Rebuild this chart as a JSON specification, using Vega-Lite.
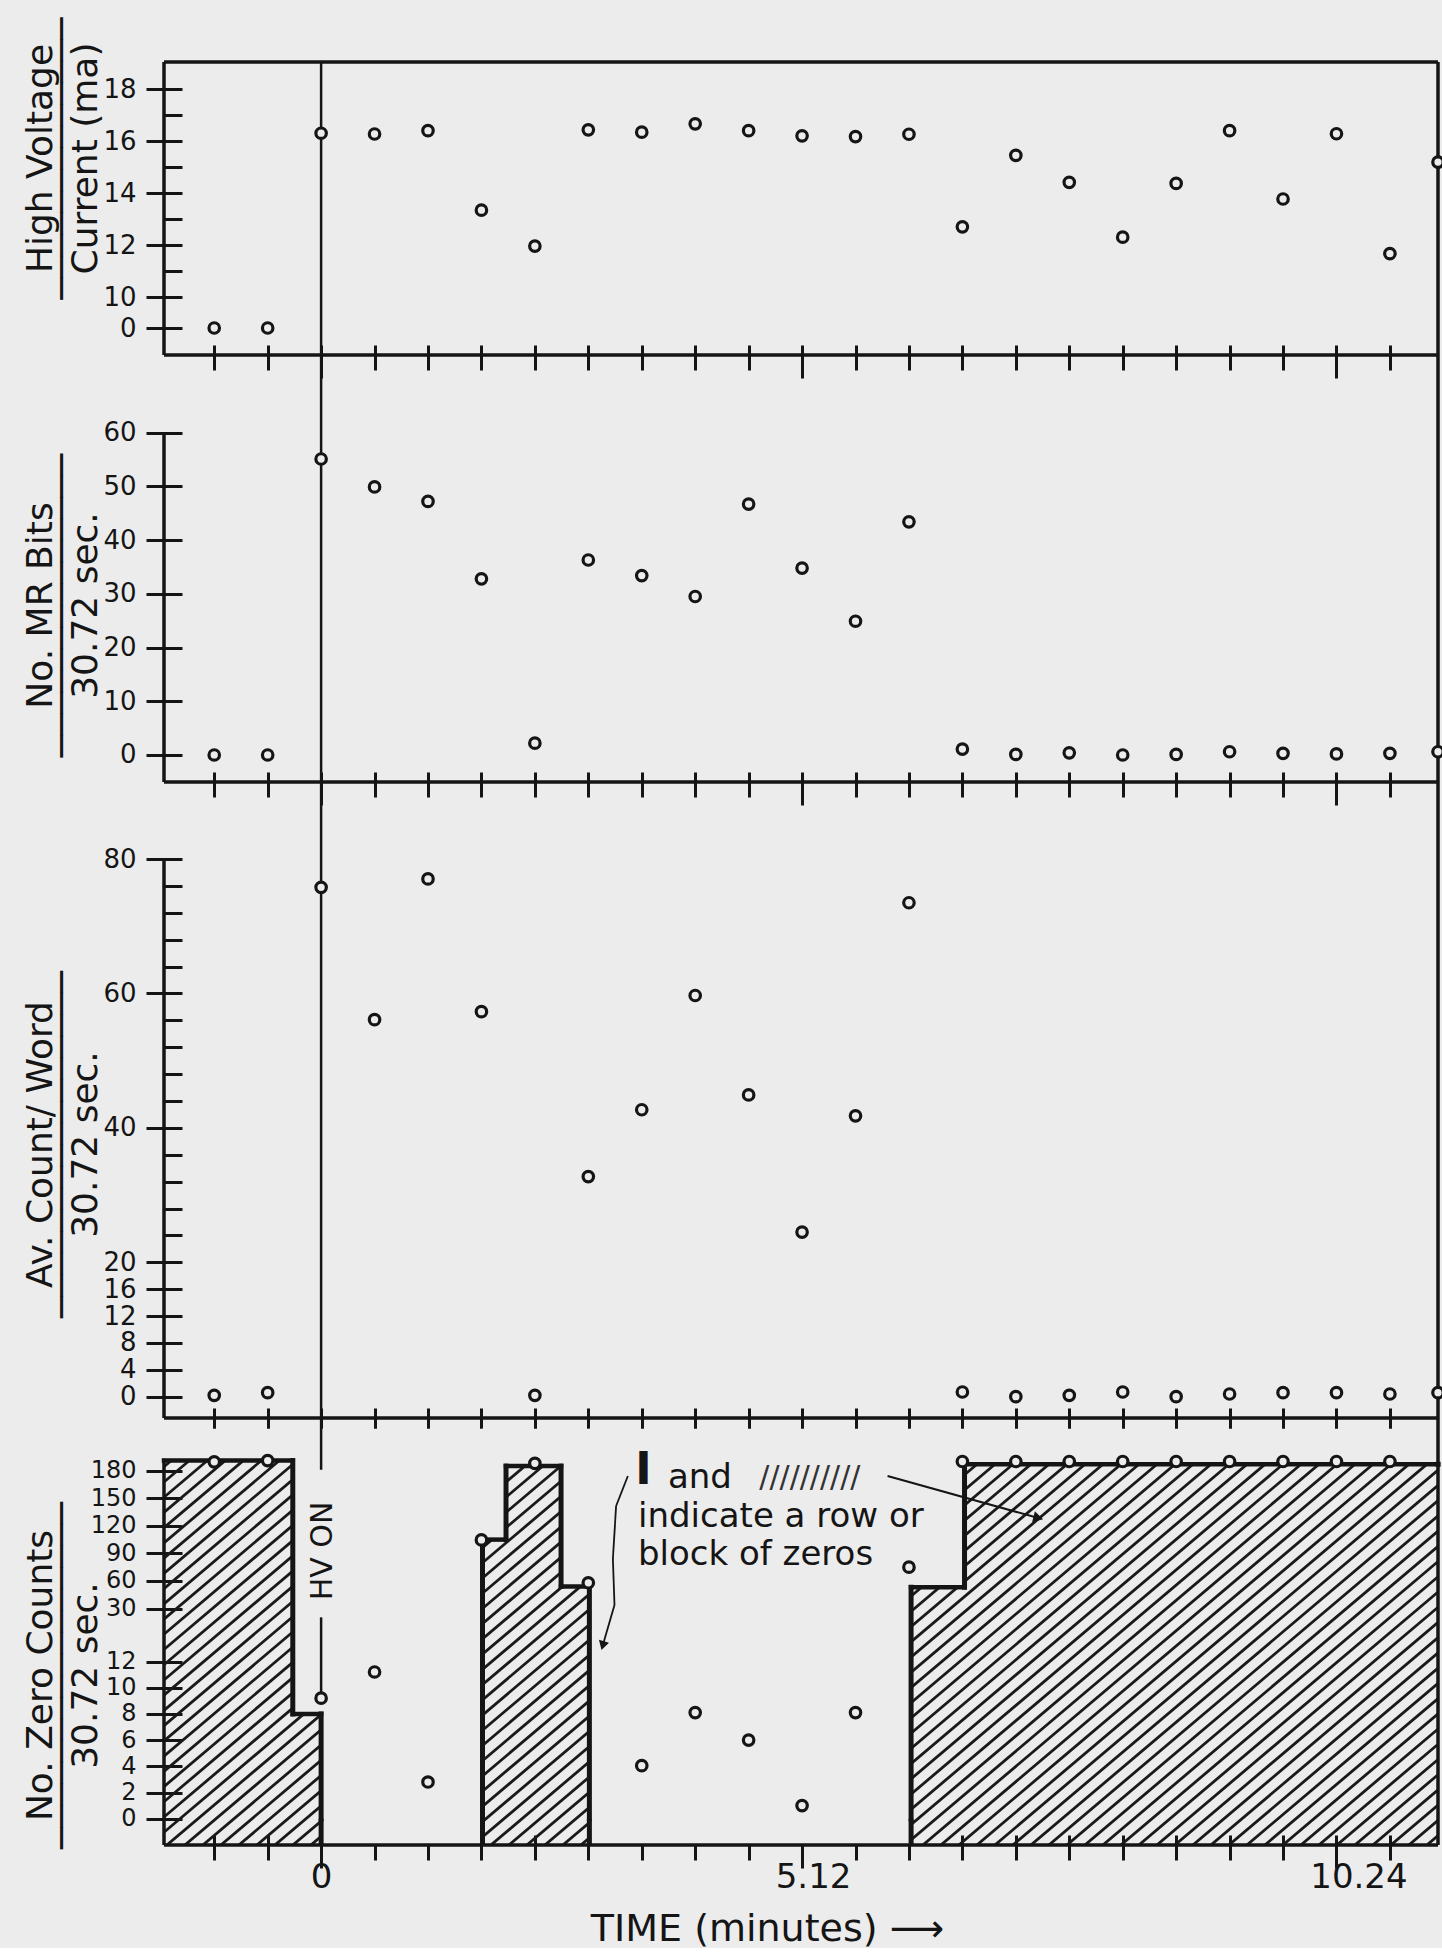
{
  "$schema": "https://vega.github.io/schema/vega-lite/v6.json",
  "background": "#ececec",
  "padding": {"left": 21, "top": 17, "right": 0, "bottom": 0},
  "spacing": 0,
  "bounds": "flush",
  "config": {
    "view": {"stroke": null},
    "font": "DejaVu Sans",
    "axis": {"labelFont": "DejaVu Sans", "titleFont": "DejaVu Sans", "labelColor": "#151515", "titleColor": "#151515", "tickColor": "#151515", "grid": false, "domain": false, "titleFontWeight": "normal", "tickWidth": 3, "zindex": 1, "labelOverlap": false, "labelFlush": false, "tickCount": 200},
    "text": {"font": "DejaVu Sans", "color": "#151515"}
  },
  "datasets": {
    "readings": [
      {"interval": -2, "current": 0, "mr_bits": 0, "avg_count": 0.2, "zero_counts": 189.7},
      {"interval": -1, "current": 0, "mr_bits": 0, "avg_count": 0.6, "zero_counts": 191},
      {"interval": 0, "current": 16.3, "mr_bits": 55.1, "avg_count": 75.8, "zero_counts": 9.2},
      {"interval": 1, "current": 16.27, "mr_bits": 49.9, "avg_count": 56.1, "zero_counts": 11.2},
      {"interval": 2, "current": 16.4, "mr_bits": 47.2, "avg_count": 77.05, "zero_counts": 2.8},
      {"interval": 3, "current": 13.34, "mr_bits": 32.8, "avg_count": 57.3, "zero_counts": 104.7},
      {"interval": 4, "current": 11.96, "mr_bits": 2.2, "avg_count": 0.2, "zero_counts": 188},
      {"interval": 5, "current": 16.43, "mr_bits": 36.3, "avg_count": 32.75, "zero_counts": 58},
      {"interval": 6, "current": 16.34, "mr_bits": 33.4, "avg_count": 42.7, "zero_counts": 4.05},
      {"interval": 7, "current": 16.66, "mr_bits": 29.5, "avg_count": 59.7, "zero_counts": 8.1},
      {"interval": 8, "current": 16.4, "mr_bits": 46.7, "avg_count": 44.9, "zero_counts": 6.0},
      {"interval": 9, "current": 16.2, "mr_bits": 34.8, "avg_count": 24.5, "zero_counts": 1.0},
      {"interval": 10, "current": 16.17, "mr_bits": 24.9, "avg_count": 41.8, "zero_counts": 8.1},
      {"interval": 11, "current": 16.26, "mr_bits": 43.4, "avg_count": 73.5, "zero_counts": 75},
      {"interval": 12, "current": 12.7, "mr_bits": 1.1, "avg_count": 0.7, "zero_counts": 190},
      {"interval": 13, "current": 15.45, "mr_bits": 0.1, "avg_count": 0, "zero_counts": 190},
      {"interval": 14, "current": 14.41, "mr_bits": 0.4, "avg_count": 0.2, "zero_counts": 190},
      {"interval": 15, "current": 12.3, "mr_bits": 0, "avg_count": 0.7, "zero_counts": 190},
      {"interval": 16, "current": 14.37, "mr_bits": 0.1, "avg_count": 0, "zero_counts": 190},
      {"interval": 17, "current": 16.4, "mr_bits": 0.6, "avg_count": 0.4, "zero_counts": 190},
      {"interval": 18, "current": 13.77, "mr_bits": 0.3, "avg_count": 0.6, "zero_counts": 190},
      {"interval": 19, "current": 16.28, "mr_bits": 0.2, "avg_count": 0.6, "zero_counts": 190},
      {"interval": 20, "current": 11.67, "mr_bits": 0.3, "avg_count": 0.4, "zero_counts": 190},
      {"interval": 20.9, "current": 15.19, "mr_bits": 0.6, "avg_count": 0.6, "zero_counts": null}
    ],
    "zero_blocks": [
      {"interval": -2.94, "zeros": 191},
      {"interval": -0.53, "zeros": 8},
      {"interval": 0, "zeros": 0},
      {"interval": 3.02, "zeros": 105},
      {"interval": 3.46, "zeros": 185},
      {"interval": 4.49, "zeros": 54},
      {"interval": 5.02, "zeros": 0},
      {"interval": 11.04, "zeros": 53},
      {"interval": 12.04, "zeros": 187},
      {"interval": 20.9, "zeros": 187}
    ]
  },
  "vconcat": [
    {
      "width": 1274,
      "height": 293,
      "layer": [
        {"data": {"values": [{}]}, "mark": {"type": "rule", "stroke": "#151515", "strokeWidth": 2.5}, "encoding": {"x": {"datum": 0, "type": "quantitative"}}},
        {"data": {"values": [{}]}, "mark": {"type": "rule", "stroke": "#151515", "strokeWidth": 3.5}, "encoding": {"x": {"datum": -2.94, "type": "quantitative"}}},
        {"data": {"values": [{}]}, "mark": {"type": "rule", "stroke": "#151515", "strokeWidth": 3.5}, "encoding": {"x": {"datum": 20.9, "type": "quantitative"}}},
        {"data": {"values": [{}]}, "mark": {"type": "rule", "stroke": "#151515", "strokeWidth": 3.5}, "encoding": {"y": {"datum": 19.04, "type": "quantitative"}}},
        {"data": {"values": [{}]}, "mark": {"type": "rule", "stroke": "#151515", "strokeWidth": 3.5}, "encoding": {"y": {"datum": -8.7, "type": "quantitative"}}},
        {
          "data": {"name": "readings"},
          "mark": {"type": "point", "shape": "circle", "size": 110, "filled": true, "fill": "#ececec", "stroke": "#151515", "strokeWidth": 3.2, "opacity": 1},
          "encoding": {
            "x": {"field": "interval", "type": "quantitative",
              "scale": {"domain": [-2.94, 20.9], "nice": false, "zero": false},
              "axis": {"values": [-2,-1,0,1,2,3,4,5,6,7,8,9,10,11,12,13,14,15,16,17,18,19,20], "tickCount": 200, "offset": -10, "labels": false, "title": null,
                "tickSize": {"condition": {"test": "datum.value == 0 || datum.value == 9 || datum.value == 19", "value": 33}, "value": 25}}},
            "y": {"field": "current", "type": "quantitative",
              "scale": {"domain": [-8.7, 0, 10, 19.04], "range": [293, 266, 235, 0], "nice": false, "zero": false},
              "axis": {"values": [0,10,11,12,13,14,15,16,17,18], "tickCount": 200, "format": "d", "offset": -18,
                "tickSize": {"condition": {"test": "datum.value % 2 == 1", "value": 18}, "value": 36},
                "labelExpr": "datum.value % 2 == 0 ? datum.label : ''",
                "labelFontSize": 26, "labelPadding": 10,
                "title": ["High Voltage", "─────────────", "Current (ma)"],
                "titleFontSize": 36, "titleLineHeight": 22.5, "titleAngle": 270, "titleBaseline": "middle", "titleAlign": "center", "titleX": -142, "titleY": 96}}
          }
        }
      ]
    },
    {
      "width": 1274,
      "height": 427,
      "layer": [
        {"data": {"values": [{}]}, "mark": {"type": "rule", "stroke": "#151515", "strokeWidth": 2.5}, "encoding": {"x": {"datum": 0, "type": "quantitative"}}},
        {"data": {"values": [{}]}, "mark": {"type": "rule", "stroke": "#151515", "strokeWidth": 3.5}, "encoding": {"x": {"datum": -2.94, "type": "quantitative"}, "y": {"datum": -5.03, "type": "quantitative"}, "y2": {"datum": 60}}},
        {"data": {"values": [{}]}, "mark": {"type": "rule", "stroke": "#151515", "strokeWidth": 3.5}, "encoding": {"x": {"datum": 20.9, "type": "quantitative"}}},
        {"data": {"values": [{}]}, "mark": {"type": "rule", "stroke": "#151515", "strokeWidth": 3.5}, "encoding": {"y": {"datum": -5.03, "type": "quantitative"}}},
        {
          "data": {"name": "readings"},
          "mark": {"type": "point", "shape": "circle", "size": 110, "filled": true, "fill": "#ececec", "stroke": "#151515", "strokeWidth": 3.2, "opacity": 1},
          "encoding": {
            "x": {"field": "interval", "type": "quantitative",
              "scale": {"domain": [-2.94, 20.9], "nice": false, "zero": false},
              "axis": {"values": [-2,-1,0,1,2,3,4,5,6,7,8,9,10,11,12,13,14,15,16,17,18,19,20], "tickCount": 200, "offset": -10, "labels": false, "title": null,
                "tickSize": {"condition": {"test": "datum.value == 0 || datum.value == 9 || datum.value == 19", "value": 33}, "value": 25}}},
            "y": {"field": "mr_bits", "type": "quantitative",
              "scale": {"domain": [-5.03, 74.46], "nice": false, "zero": false},
              "axis": {"values": [0,10,20,30,40,50,60], "tickCount": 200, "format": "d", "offset": -18, "tickSize": 36,
                "labelFontSize": 26, "labelPadding": 10,
                "title": ["No. MR Bits", "──────────────", "30.72 sec."],
                "titleFontSize": 36, "titleLineHeight": 22.5, "titleAngle": 270, "titleBaseline": "middle", "titleAlign": "center", "titleX": -142, "titleY": 250}}
          }
        }
      ]
    },
    {
      "width": 1274,
      "height": 636,
      "layer": [
        {"data": {"values": [{}]}, "mark": {"type": "rule", "stroke": "#151515", "strokeWidth": 2.5}, "encoding": {"x": {"datum": 0, "type": "quantitative"}}},
        {"data": {"values": [{}]}, "mark": {"type": "rule", "stroke": "#151515", "strokeWidth": 3.5}, "encoding": {"x": {"datum": -2.94, "type": "quantitative"}, "y": {"datum": -3.17, "type": "quantitative"}, "y2": {"datum": 80}}},
        {"data": {"values": [{}]}, "mark": {"type": "rule", "stroke": "#151515", "strokeWidth": 3.5}, "encoding": {"x": {"datum": 20.9, "type": "quantitative"}}},
        {"data": {"values": [{}]}, "mark": {"type": "rule", "stroke": "#151515", "strokeWidth": 3.5}, "encoding": {"y": {"datum": -3.17, "type": "quantitative"}}},
        {
          "data": {"name": "readings"},
          "mark": {"type": "point", "shape": "circle", "size": 110, "filled": true, "fill": "#ececec", "stroke": "#151515", "strokeWidth": 3.2, "opacity": 1},
          "encoding": {
            "x": {"field": "interval", "type": "quantitative",
              "scale": {"domain": [-2.94, 20.9], "nice": false, "zero": false},
              "axis": {"values": [-2,-1,0,1,2,3,4,5,6,7,8,9,10,11,12,13,14,15,16,17,18,19,20], "tickCount": 200, "offset": -10, "labels": false, "title": null,
                "tickSize": {"condition": {"test": "datum.value == 0 || datum.value == 9 || datum.value == 19", "value": 33}, "value": 25}}},
            "y": {"field": "avg_count", "type": "quantitative",
              "scale": {"domain": [-3.17, 91.47], "nice": false, "zero": false},
              "axis": {"values": [0,4,8,12,16,20,24,28,32,36,40,44,48,52,56,60,64,68,72,76,80], "tickCount": 200, "format": "d", "offset": -18,
                "tickSize": {"condition": {"test": "datum.value <= 20 || datum.value % 20 == 0", "value": 36}, "value": 18},
                "labelExpr": "(datum.value <= 20 || datum.value % 20 == 0) ? datum.label : ''",
                "labelFontSize": 26, "labelPadding": 10,
                "title": ["Av. Count/ Word", "────────────────", "30.72 sec."],
                "titleFontSize": 36, "titleLineHeight": 22.5, "titleAngle": 270, "titleBaseline": "middle", "titleAlign": "center", "titleX": -142, "titleY": 362}}
          }
        }
      ]
    },
    {
      "width": 1274,
      "height": 427,
      "layer": [
        {"data": {"values": [{}]},
         "mark": {"type": "point", "clip": true, "size": 4, "filled": false, "stroke": "#1a1a1a", "strokeWidth": 2.8, "opacity": 1,
           "shape": "M-1126,206l487,-412m-469,412l487,-412m-469,412l487,-412m-469,412l487,-412m-469,412l487,-412m-469,412l487,-412m-469,412l487,-412m-469,412l487,-412m-469,412l487,-412m-469,412l487,-412m-469,412l487,-412m-469,412l487,-412m-469,412l487,-412m-469,412l487,-412m-469,412l487,-412m-469,412l487,-412m-469,412l487,-412m-469,412l487,-412m-469,412l487,-412m-469,412l487,-412m-469,412l487,-412m-469,412l487,-412m-469,412l487,-412m-469,412l487,-412m-469,412l487,-412m-469,412l487,-412m-469,412l487,-412m-469,412l487,-412m-469,412l487,-412m-469,412l487,-412m-469,412l487,-412m-469,412l487,-412m-469,412l487,-412m-469,412l487,-412m-469,412l487,-412m-469,412l487,-412m-469,412l487,-412m-469,412l487,-412m-469,412l487,-412m-469,412l487,-412m-469,412l487,-412m-469,412l487,-412m-469,412l487,-412m-469,412l487,-412m-469,412l487,-412m-469,412l487,-412m-469,412l487,-412m-469,412l487,-412m-469,412l487,-412m-469,412l487,-412m-469,412l487,-412m-469,412l487,-412m-469,412l487,-412m-469,412l487,-412m-469,412l487,-412m-469,412l487,-412m-469,412l487,-412m-469,412l487,-412m-469,412l487,-412m-469,412l487,-412m-469,412l487,-412m-469,412l487,-412m-469,412l487,-412m-469,412l487,-412m-469,412l487,-412m-469,412l487,-412m-469,412l487,-412m-469,412l487,-412m-469,412l487,-412m-469,412l487,-412m-469,412l487,-412m-469,412l487,-412m-469,412l487,-412m-469,412l487,-412m-469,412l487,-412m-469,412l487,-412m-469,412l487,-412m-469,412l487,-412m-469,412l487,-412m-469,412l487,-412m-469,412l487,-412m-469,412l487,-412m-469,412l487,-412m-469,412l487,-412m-469,412l487,-412m-469,412l487,-412m-469,412l487,-412m-469,412l487,-412m-469,412l487,-412m-469,412l487,-412m-469,412l487,-412m-469,412l487,-412m-469,412l487,-412m-469,412l487,-412m-469,412l487,-412m-469,412l487,-412m-469,412l487,-412m-469,412l487,-412m-469,412l487,-412m-469,412l487,-412m-469,412l487,-412m-469,412l487,-412m-469,412"},
         "encoding": {"x": {"datum": 8.98, "type": "quantitative"}, "y": {"datum": 17.94, "type": "quantitative"}}},
        {"data": {"name": "zero_blocks"},
         "transform": [
           {"window": [{"op": "lead", "field": "interval", "as": "next_interval"}, {"op": "lead", "field": "zeros", "as": "next_zeros"}], "sort": [{"field": "interval", "order": "ascending"}]},
           {"filter": "datum.next_interval != null && datum.zeros > 0"}],
         "mark": {"type": "rect", "fill": "#ececec", "stroke": "#ececec", "strokeWidth": 1.5, "clip": true},
         "encoding": {"x": {"field": "interval", "type": "quantitative"}, "x2": {"field": "next_interval"}, "y": {"field": "zeros", "type": "quantitative"}, "y2": {"datum": 225}}},
        {"data": {"name": "zero_blocks"},
         "transform": [
           {"window": [{"op": "lead", "field": "interval", "as": "next_interval"}, {"op": "lead", "field": "zeros", "as": "next_zeros"}], "sort": [{"field": "interval", "order": "ascending"}]},
           {"filter": "datum.next_interval != null && datum.zeros == 0"}],
         "mark": {"type": "rect", "fill": "#ececec", "stroke": "#ececec", "strokeWidth": 1.5, "clip": true},
         "encoding": {"x": {"field": "interval", "type": "quantitative"}, "x2": {"field": "next_interval"}, "y": {"datum": -2, "type": "quantitative"}, "y2": {"datum": 225}}},
        {"data": {"values": [{}]}, "mark": {"type": "rule", "stroke": "#151515", "strokeWidth": 2.5}, "encoding": {"x": {"datum": 0, "type": "quantitative"}, "y": {"datum": 237.4, "type": "quantitative"}, "y2": {"datum": 181}}},
        {"data": {"values": [{}]}, "mark": {"type": "rule", "stroke": "#151515", "strokeWidth": 2.5}, "encoding": {"x": {"datum": 0, "type": "quantitative"}, "y": {"datum": 27, "type": "quantitative"}, "y2": {"datum": 9.2}}},
        {"data": {"values": [{}]}, "mark": {"type": "text", "text": "HV ON", "angle": 270, "fontSize": 30, "align": "center", "baseline": "middle", "color": "#151515"}, "encoding": {"x": {"datum": 0.04, "type": "quantitative"}, "y": {"datum": 92.6, "type": "quantitative"}}},
        {"data": {"name": "zero_blocks"},
         "transform": [
           {"window": [{"op": "lead", "field": "interval", "as": "next_interval"}, {"op": "lead", "field": "zeros", "as": "next_zeros"}], "sort": [{"field": "interval", "order": "ascending"}]},
           {"filter": "datum.next_interval != null && datum.zeros > 0"}],
         "mark": {"type": "rule", "stroke": "#151515", "strokeWidth": 4.5, "strokeCap": "square"},
         "encoding": {"x": {"field": "interval", "type": "quantitative"}, "x2": {"field": "next_interval"}, "y": {"field": "zeros", "type": "quantitative"}}},
        {"data": {"name": "zero_blocks"},
         "transform": [
           {"window": [{"op": "lead", "field": "interval", "as": "next_interval"}, {"op": "lead", "field": "zeros", "as": "next_zeros"}], "sort": [{"field": "interval", "order": "ascending"}]},
           {"filter": "datum.next_interval != null"}],
         "mark": {"type": "rule", "stroke": "#151515", "strokeWidth": 5, "strokeCap": "square"},
         "encoding": {"x": {"field": "next_interval", "type": "quantitative"}, "y": {"field": "zeros", "type": "quantitative"}, "y2": {"field": "next_zeros"}}},
        {"data": {"name": "zero_blocks"},
         "transform": [
           {"window": [{"op": "lead", "field": "interval", "as": "next_interval"}, {"op": "lead", "field": "zeros", "as": "next_zeros"}], "sort": [{"field": "interval", "order": "ascending"}]},
           {"filter": "datum.next_interval != null && (datum.zeros == 0 || datum.next_zeros == 0)"}],
         "mark": {"type": "rule", "stroke": "#151515", "strokeWidth": 5},
         "encoding": {"x": {"field": "next_interval", "type": "quantitative"}, "y": {"datum": -2, "type": "quantitative"}, "y2": {"datum": 0}}},
        {"data": {"values": [{}]}, "mark": {"type": "rule", "stroke": "#151515", "strokeWidth": 3.5}, "encoding": {"x": {"datum": -2.94, "type": "quantitative"}, "y": {"datum": -2, "type": "quantitative"}, "y2": {"datum": 193}}},
        {"data": {"values": [{}]}, "mark": {"type": "rule", "stroke": "#151515", "strokeWidth": 3.5}, "encoding": {"x": {"datum": 20.9, "type": "quantitative"}}},
        {"data": {"values": [{}]}, "mark": {"type": "rule", "stroke": "#151515", "strokeWidth": 3.5}, "encoding": {"y": {"datum": -2, "type": "quantitative"}}},
        {"data": {"values": [{}]}, "mark": {"type": "text", "text": "I", "fontSize": 44, "fontWeight": "bold", "align": "center", "baseline": "middle", "color": "#151515"}, "encoding": {"x": {"datum": 6.03, "type": "quantitative"}, "y": {"datum": 180, "type": "quantitative"}}},
        {"data": {"values": [{}]}, "mark": {"type": "text", "text": "and", "fontSize": 34, "align": "left", "baseline": "middle", "color": "#151515"}, "encoding": {"x": {"datum": 6.49, "type": "quantitative"}, "y": {"datum": 172.4, "type": "quantitative"}}},
        {"data": {"values": [{}]}, "mark": {"type": "text", "text": "//////////", "fontSize": 30, "align": "left", "baseline": "middle", "color": "#333333"}, "encoding": {"x": {"datum": 8.2, "type": "quantitative"}, "y": {"datum": 172.4, "type": "quantitative"}}},
        {"data": {"values": [{}]}, "mark": {"type": "text", "text": "indicate a row or", "fontSize": 34, "align": "left", "baseline": "middle", "color": "#151515"}, "encoding": {"x": {"datum": 5.93, "type": "quantitative"}, "y": {"datum": 129.3, "type": "quantitative"}}},
        {"data": {"values": [{}]}, "mark": {"type": "text", "text": "block of zeros", "fontSize": 34, "align": "left", "baseline": "middle", "color": "#151515"}, "encoding": {"x": {"datum": 5.93, "type": "quantitative"}, "y": {"datum": 87.7, "type": "quantitative"}}},
        {"data": {"values": [{}]}, "mark": {"type": "rule", "stroke": "#151515", "strokeWidth": 1.8}, "encoding": {"x": {"datum": 5.74, "type": "quantitative"}, "y": {"datum": 174.2, "type": "quantitative"}, "x2": {"datum": 5.52}, "y2": {"datum": 141.6}}},
        {"data": {"values": [{}]}, "mark": {"type": "rule", "stroke": "#151515", "strokeWidth": 1.8}, "encoding": {"x": {"datum": 5.52, "type": "quantitative"}, "y": {"datum": 141.6, "type": "quantitative"}, "x2": {"datum": 5.46}, "y2": {"datum": 83.9}}},
        {"data": {"values": [{}]}, "mark": {"type": "rule", "stroke": "#151515", "strokeWidth": 1.8}, "encoding": {"x": {"datum": 5.46, "type": "quantitative"}, "y": {"datum": 83.9, "type": "quantitative"}, "x2": {"datum": 5.49}, "y2": {"datum": 33.8}}},
        {"data": {"values": [{}]}, "mark": {"type": "rule", "stroke": "#151515", "strokeWidth": 1.8}, "encoding": {"x": {"datum": 5.49, "type": "quantitative"}, "y": {"datum": 33.8, "type": "quantitative"}, "x2": {"datum": 5.27}, "y2": {"datum": 17.4}}},
        {"data": {"values": [{}]}, "mark": {"type": "point", "shape": "triangle-right", "size": 110, "filled": true, "color": "#151515", "opacity": 1, "angle": 106}, "encoding": {"x": {"datum": 5.27, "type": "quantitative"}, "y": {"datum": 17.4, "type": "quantitative"}}},
        {"data": {"values": [{}]}, "mark": {"type": "rule", "stroke": "#151515", "strokeWidth": 2}, "encoding": {"x": {"datum": 10.6, "type": "quantitative"}, "y": {"datum": 174.2, "type": "quantitative"}, "x2": {"datum": 13.42}, "y2": {"datum": 128.5}}},
        {"data": {"values": [{}]}, "mark": {"type": "point", "shape": "triangle-right", "size": 130, "filled": true, "color": "#151515", "opacity": 1, "angle": 14}, "encoding": {"x": {"datum": 13.42, "type": "quantitative"}, "y": {"datum": 128.5, "type": "quantitative"}}},
        {
          "data": {"name": "readings"},
          "mark": {"type": "point", "shape": "circle", "size": 110, "filled": true, "fill": "#ececec", "stroke": "#151515", "strokeWidth": 3.2, "opacity": 1},
          "encoding": {
            "x": {"field": "interval", "type": "quantitative",
              "scale": {"domain": [-2.94, 20.9], "nice": false, "zero": false},
              "axis": {"values": [-2,-1,0,1,2,3,4,5,6,7,8,9,10,11,12,13,14,15,16,17,18,19,20], "tickCount": 200, "offset": -10,
                "tickSize": {"condition": {"test": "datum.value == 0 || datum.value == 9 || datum.value == 19", "value": 33}, "value": 25},
                "labelExpr": "datum.value == 0 ? '0' : datum.value == 9 ? '5.12' : datum.value == 19 ? '10.24' : ''",
                "labelFontSize": 34, "labelPadding": -8,
                "labelOffset": {"condition": [{"test": "datum.value == 9", "value": 11}, {"test": "datum.value == 19", "value": 22}], "value": 0},
                "title": "TIME  (minutes)  ⟶", "titleFontSize": 38, "titleAngle": 0, "titleBaseline": "middle", "titleAlign": "center", "titleX": 603, "titleY": 94}},
            "y": {"field": "zero_counts", "type": "quantitative",
              "scale": {"domain": [-2, 0, 12, 30, 180, 237.4], "range": [427, 400.7, 243.5, 190.5, 52.7, 0], "nice": false, "zero": false},
              "axis": {"values": [0,2,4,6,8,10,12,30,60,90,120,150,180], "tickCount": 200, "format": "d", "offset": -18, "tickSize": 36,
                "labelFontSize": 24, "labelPadding": 10,
                "title": ["No. Zero Counts", "────────────────", "30.72 sec."],
                "titleFontSize": 36, "titleLineHeight": 22.5, "titleAngle": 270, "titleBaseline": "middle", "titleAlign": "center", "titleX": -142, "titleY": 257}}
          }
        }
      ]
    }
  ]
}
